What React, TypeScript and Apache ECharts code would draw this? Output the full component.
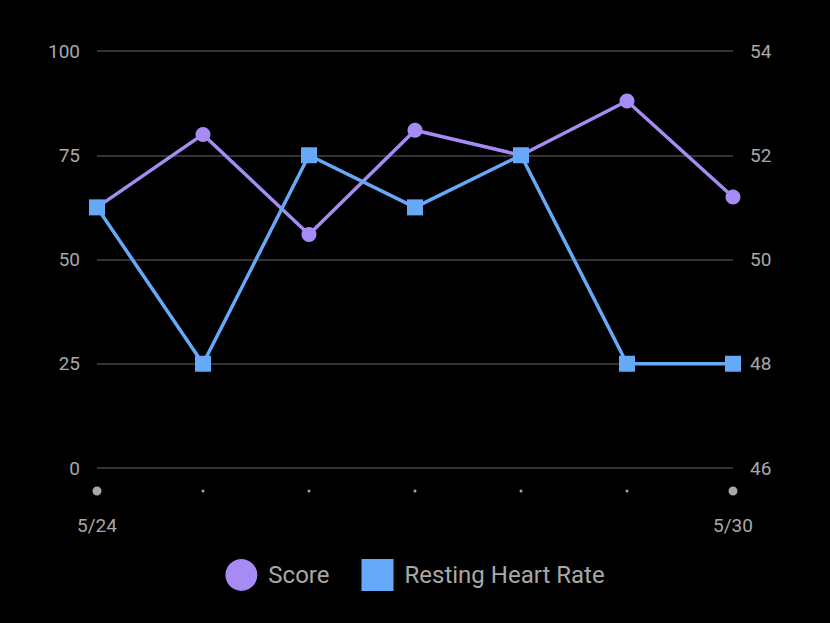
import React, { useEffect, useRef } from "react";
import * as echarts from "echarts";

const dates = ["5/24", "5/25", "5/26", "5/27", "5/28", "5/29", "5/30"];
const scoreValues = [62.5, 80, 56, 81, 75, 88, 65];
const heartRateValues = [51, 48, 52, 51, 52, 48, 48];
const leftTicks = { min: 0, max: 100, interval: 25 };
const rightTicks = { min: 46, max: 54, interval: 2 };

const labelColor = "#a8a8a8";
const font = "Roboto, 'Noto Sans', sans-serif";

export default function App() {
  const ref = useRef<HTMLDivElement>(null);
  useEffect(() => {
    if (!ref.current) return;
    const chart = echarts.init(ref.current, undefined, { renderer: "svg" });
    const last = dates.length - 1;
    chart.setOption({
      animation: false,
      backgroundColor: "#000000",
      grid: { left: 97, right: 97, top: 51, bottom: 155, containLabel: false },
      legend: {
        bottom: 27,
        left: "center",
        itemWidth: 32,
        itemHeight: 32,
        itemGap: 32,
        textStyle: { color: labelColor, fontSize: 24, fontFamily: font, padding: [0, 0, 0, 6] },
        data: [
          { name: "Score", icon: "circle" },
          { name: "Resting Heart Rate", icon: "rect" },
        ],
      },
      xAxis: {
        type: "category",
        data: dates,
        boundaryGap: false,
        axisLine: { show: false },
        axisTick: { show: false },
        axisLabel: {
          interval: 0,
          margin: 13,
          align: "center",
          formatter: (v: string, i: number) =>
            i === 0 || i === last ? `{big| }\n{lab|${v}}` : `{small| }\n{lab| }`,
          rich: {
            big: { width: 9, height: 9, borderRadius: 4.5, backgroundColor: labelColor, lineHeight: 20 },
            small: { width: 3, height: 3, borderRadius: 1.5, backgroundColor: labelColor, lineHeight: 20 },
            lab: { color: labelColor, fontSize: 19, fontFamily: font, lineHeight: 48 },
          },
        },
      },
      yAxis: [
        {
          type: "value",
          ...leftTicks,
          position: "left",
          axisLine: { show: false },
          axisTick: { show: false },
          axisLabel: { color: labelColor, fontSize: 19, fontFamily: font, margin: 17 },
          splitLine: { lineStyle: { color: "#444444", width: 1.5 } },
        },
        {
          type: "value",
          ...rightTicks,
          position: "right",
          axisLine: { show: false },
          axisTick: { show: false },
          axisLabel: { color: labelColor, fontSize: 19, fontFamily: font, margin: 17 },
          splitLine: { show: false },
        },
      ],
      series: [
        {
          name: "Score",
          type: "line",
          yAxisIndex: 0,
          data: scoreValues,
          symbol: "circle",
          symbolSize: 15,
          lineStyle: { color: "#a78bf4", width: 3.5 },
          itemStyle: { color: "#a78bf4" },
        },
        {
          name: "Resting Heart Rate",
          type: "line",
          yAxisIndex: 1,
          data: heartRateValues,
          symbol: "rect",
          symbolSize: 16,
          lineStyle: { color: "#66a9f8", width: 3.5 },
          itemStyle: { color: "#66a9f8" },
        },
      ],
    });
    return () => chart.dispose();
  }, []);
  return (
    <div
      ref={ref}
      style={{ position: "fixed", left: 0, top: 0, width: 830, height: 623, background: "#000" }}
    />
  );
}
